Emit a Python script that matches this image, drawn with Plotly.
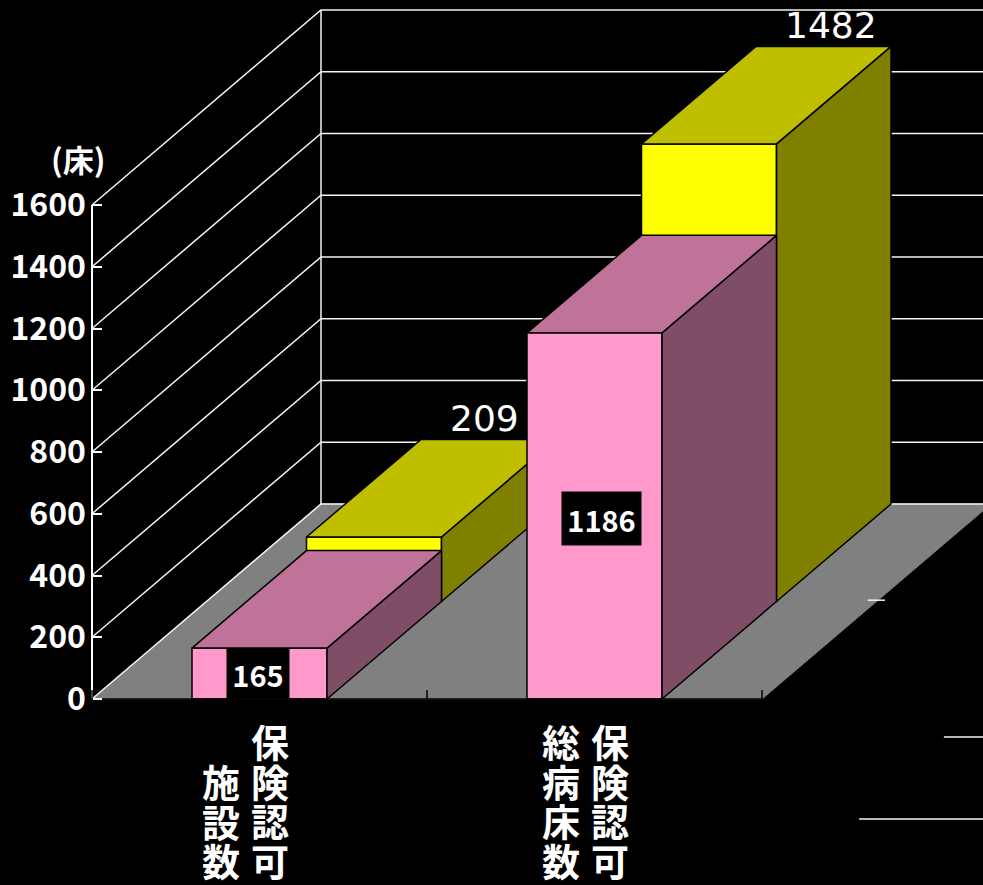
import plotly.graph_objects as go

# ---------- data ----------
categories = ["施設数", "総病床数"]
header_text = "保険認可"
pink_values = [165, 1186]
yellow_values = [209, 1482]
y_ticks = [0, 200, 400, 600, 800, 1000, 1200, 1400, 1600]
y_unit = "(床)"

# ---------- 3D projection (oblique) ----------
W, H = 983, 885
X_L, X_R, Y_B, Y_T = 92, 762, 699, 205
PX_PER_VAL = (Y_B - Y_T) / 1600
PX_PER_CAT = (X_R - X_L) / 2
DEPTH_DX = 229 / PX_PER_CAT        # full depth, in category units
DEPTH_DY = 195 / PX_PER_VAL        # full depth, in value units
BAR_W = 135 / PX_PER_CAT
CAT_L, CAT_R = -0.5, 1.5


def proj(cat, depth, val):
    return cat + depth * DEPTH_DX, val + depth * DEPTH_DY


fig = go.Figure()


def poly(points, fill, line="black", lw=1.5):
    xs, ys = zip(*[proj(*p) for p in points])
    fig.add_trace(go.Scatter(
        x=list(xs) + [xs[0]], y=list(ys) + [ys[0]], mode="lines", fill="toself",
        fillcolor=fill, line=dict(color=line, width=lw), hoverinfo="skip",
        showlegend=False))


def seg(points, color="#f4f4f4", lw=1.5):
    xs, ys = zip(*[proj(*p) for p in points])
    fig.add_trace(go.Scatter(
        x=xs, y=ys, mode="lines", line=dict(color=color, width=lw),
        hoverinfo="skip", showlegend=False))


# floor
poly([(CAT_L, 0, 0), (CAT_R, 0, 0), (CAT_R, 1, 0), (CAT_L, 1, 0)], "#808080", "#808080", 1)

# walls
FAR = CAT_R + 1.0
for v in y_ticks:
    seg([(CAT_L, 0, v), (CAT_L, 1, v), (FAR, 1, v)])
seg([(CAT_L, 1, y_ticks[0]), (CAT_L, 1, y_ticks[-1])])
seg([(CAT_L, 0, y_ticks[0]), (CAT_L, 0, y_ticks[-1])], "white", 2)

# stray line fragments at lower right of the picture
for (c0, c1, v) in [(1.816, 1.867, 320), (2.043, 2.2, -123), (1.79, 2.2, -389)]:
    seg([(c0, 0, v), (c1, 0, v)])


def box(cat, d0, d1, val, front, top, side):
    l, r = cat - BAR_W / 2, cat + BAR_W / 2
    poly([(l, d0, 0), (r, d0, 0), (r, d0, val), (l, d0, val)], front)
    poly([(r, d0, 0), (r, d1, 0), (r, d1, val), (r, d0, val)], side)
    poly([(l, d0, val), (r, d0, val), (r, d1, val), (l, d1, val)], top)


for i, v in enumerate(yellow_values):
    box(i, 0.5, 1.0, v, "#FFFF00", "#BFBF00", "#808000")
for i, v in enumerate(pink_values):
    box(i, 0.0, 0.5, v, "#FF99CC", "#BF7399", "#804D66")

# category tick marks on the front floor edge
TICK_VAL = 9 / PX_PER_VAL
for c in (CAT_L, 0.5, CAT_R):
    seg([(c, 0, 0), (c, 0, TICK_VAL)], "black")
seg([(CAT_L, 0, 0), (CAT_R, 0, 0)], "black")

CJK = "Noto Sans CJK JP, sans-serif"
ann = []

# value labels of the rear series
for i, (v, dx) in enumerate(zip(yellow_values, [-4, 7])):
    x, y = proj(i, 1.0, v)
    ann.append(dict(x=x, y=y, xref="x", yref="y", text=str(v), showarrow=False,
                    xshift=dx, yshift=21, font=dict(family="DejaVu Sans", size=36, color="white")))

# value labels of the front series, in black boxes
for i, (v, dx, dy, w, h) in enumerate(zip(pink_values, [-1.5, 7], [0, -2.5], [62, 79], [49, 53])):
    ann.append(dict(x=i, y=v / 2, xref="x", yref="y", text=str(v), showarrow=False,
                    xshift=dx, yshift=dy, width=w, height=h, bgcolor="black", borderpad=0,
                    font=dict(family=CJK, size=29, color="white", weight="bold")))

# vertical category labels, one column per text
GLYPH = 38
LINE_FONT = 39.6 / 1.3


def column(txt):
    return "<br>".join(f'<span style="font-size:{GLYPH}px">{ch}</span>' for ch in txt)


for i, (cat, dl, dr) in enumerate(zip(categories, [-38.5, -33.5], [10.5, 15.5])):
    for col, dx in ((header_text, dr), (cat, dl)):
        ann.append(dict(x=i, y=0, xref="x", yref="y", text=column(col), showarrow=False,
                        xshift=dx, yshift=-(889 - 699), yanchor="bottom",
                        font=dict(family=CJK, size=LINE_FONT, color="white", weight="bold")))

# axis unit
ann.append(dict(x=-0.5, y=1600, xref="x", yref="y", text=y_unit, showarrow=False,
                xshift=-14, yshift=47, font=dict(family=CJK, size=31, color="white", weight="bold")))

fig.update_layout(
    width=W, height=H, margin=dict(l=0, r=0, t=0, b=0), autosize=False,
    paper_bgcolor="black", plot_bgcolor="black", showlegend=False, annotations=ann,
    xaxis=dict(domain=[0, 1], range=[CAT_L - X_L / PX_PER_CAT, CAT_L + (W - X_L) / PX_PER_CAT],
               visible=False, fixedrange=True),
    yaxis=dict(domain=[0, 1], range=[-(H - Y_B) / PX_PER_VAL, Y_B / PX_PER_VAL], tickvals=y_ticks,
               anchor="free", position=X_L / W, side="left",
               ticks="inside", ticklen=9, tickcolor="white", tickwidth=1.5, showline=False,
               showgrid=False, zeroline=False, fixedrange=True, ticklabelstandoff=6,
               tickfont=dict(family=CJK, size=32, color="white", weight="bold")),
)

fig.write_html("out.html", config={"displayModeBar": False},
               post_script="document.body.style.margin='0';document.body.style.background='black';")
